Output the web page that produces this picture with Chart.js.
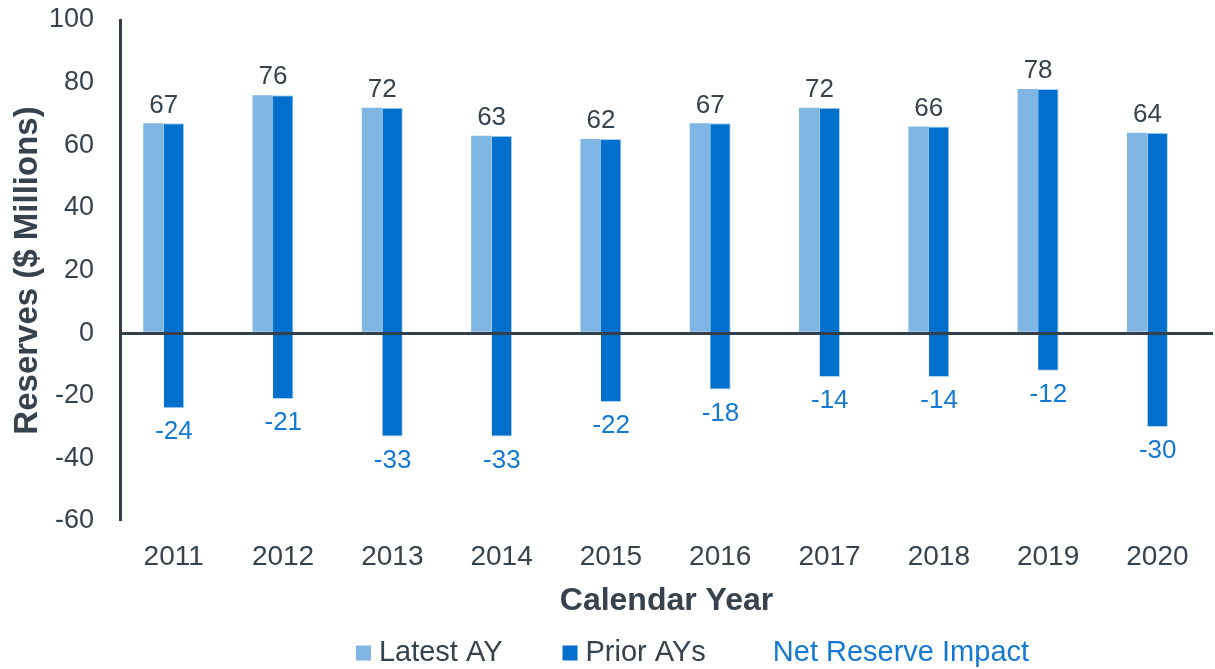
<!DOCTYPE html>
<html>
<head>
<meta charset="utf-8">
<title>Reserves by Calendar Year</title>
<script src="https://cdn.jsdelivr.net/npm/chart.js@4.4.1/dist/chart.umd.min.js"></script>
<style>
  html, body { margin: 0; padding: 0; background: #fff; }
  #wrap { width: 1215px; height: 669px; position: relative; }
</style>
</head>
<body>
<div id="wrap"><canvas id="reserveChart"></canvas></div>
<script>
// Calendar years along the bottom
const years = ["2011", "2012", "2013", "2014", "2015", "2016", "2017", "2018", "2019", "2020"];
// Latest accident year reserves ($ millions)
const latestAY = [67, 76, 72, 63, 62, 67, 72, 66, 78, 64];
// Net reserve impact after prior AY development ($ millions)
const netImpact = [-24, -21, -33, -33, -22, -18, -14, -14, -12, -30];
// Value axis range
const yMin = -60;
const yMax = 100;
const yStep = 20;

const FONT = '"Liberation Sans", Arial, sans-serif';
const textDark = "#38424d";
const lightBlue = "#80b6e4";
const darkBlue = "#0070cc";
const netBlue = "#1479d2";

// Prior AYs bar runs from the latest AY value down to the net impact
const priorAYs = years.map((_, i) => ({ x: i, y: [netImpact[i], latestAY[i]] }));
const latestPoints = years.map((_, i) => ({ x: i, y: latestAY[i] }));

// value labels: latest AY above each pair, net impact under the prior bar
const barLabels = {
    id: "barLabels",
    afterDatasetsDraw(chart) {
        const ctx = chart.ctx;
        const yScale = chart.scales.y;
        const latestMeta = chart.getDatasetMeta(0);
        const priorMeta = chart.getDatasetMeta(1);
        ctx.save();
        ctx.textAlign = "center";
        ctx.textBaseline = "middle";
        ctx.font = "26px " + FONT;
        latestMeta.data.forEach((bar, i) => {
            ctx.fillStyle = textDark;
            ctx.fillText(String(latestAY[i]), bar.x + bar.width / 2, yScale.getPixelForValue(latestAY[i]) - 18);
        });
        priorMeta.data.forEach((bar, i) => {
            ctx.fillStyle = netBlue;
            ctx.fillText(String(netImpact[i]), bar.x, yScale.getPixelForValue(netImpact[i]) + 24);
        });
        ctx.restore();
    }
};

// legend row under the axis title (net impact has no swatch)
const legendItems = [
    { text: "Latest AY", swatch: lightBlue, color: textDark, gapAfter: 60 },
    { text: "Prior AYs", swatch: darkBlue, color: textDark, gapAfter: 67 },
    { text: "Net Reserve Impact", swatch: null, color: netBlue, gapAfter: 0 }
];
const bottomLegend = {
    id: "bottomLegend",
    afterDraw(chart) {
        const ctx = chart.ctx;
        const box = 15;
        const boxGap = 8;
        ctx.save();
        ctx.font = "29px " + FONT;
        ctx.textBaseline = "middle";
        ctx.textAlign = "left";
        let total = 0;
        legendItems.forEach(item => {
            if (item.swatch) total += box + boxGap;
            total += ctx.measureText(item.text).width + item.gapAfter;
        });
        const area = chart.chartArea;
        let x = (area.left + area.right) / 2 + 26 - total / 2;
        const y = chart.height - 16;
        legendItems.forEach(item => {
            if (item.swatch) {
                ctx.fillStyle = item.swatch;
                ctx.fillRect(x, y - box / 2, box, box);
                x += box + boxGap;
            }
            ctx.fillStyle = item.color;
            ctx.fillText(item.text, x, y);
            x += ctx.measureText(item.text).width + item.gapAfter;
        });
        ctx.restore();
    }
};

const ctx = document.getElementById("reserveChart").getContext("2d");
new Chart(ctx, {
    type: "bar",
    data: {
        datasets: [
            {
                label: "Latest AY",
                data: latestPoints,
                backgroundColor: lightBlue,
                borderWidth: 0
            },
            {
                label: "Prior AYs",
                data: priorAYs,
                backgroundColor: darkBlue,
                borderColor: "rgba(140,190,235,0.7)",
                borderWidth: { left: 0, right: 1, top: 1, bottom: 1 },
                borderSkipped: false
            }
        ]
    },
    options: {
        responsive: true,
        maintainAspectRatio: false,
        animation: false,
        categoryPercentage: 0.375,
        barPercentage: 1,
        layout: { padding: { top: 20, right: 2, bottom: 40, left: 0 } },
        plugins: {
            legend: { display: false },
            tooltip: { enabled: false }
        },
        scales: {
            x: {
                type: "linear",
                offset: false,
                min: -0.4,
                max: years.length - 0.4,
                grid: { display: false },
                border: { display: false },
                afterBuildTicks(scale) {
                    scale.ticks = years.map((_, i) => ({ value: i }));
                },
                ticks: {
                    autoSkip: false,
                    maxRotation: 0,
                    labelOffset: 10,
                    padding: 11,
                    color: textDark,
                    font: { family: FONT, size: 28 },
                    callback: v => years[v] || ""
                },
                title: {
                    display: true,
                    text: "Calendar Year",
                    color: textDark,
                    font: { family: FONT, size: 32, weight: "bold" },
                    padding: { top: 0, bottom: 9 }
                },
                afterFit(scale) { scale.height = 108; }
            },
            y: {
                min: yMin,
                max: yMax,
                grid: {
                    z: 1,
                    drawTicks: true,
                    tickLength: 26,
                    tickColor: "rgba(0,0,0,0)",
                    color: c => c.tick.value === 0 ? "#333f4a" : "rgba(0,0,0,0)",
                    lineWidth: c => c.tick.value === 0 ? 3 : 0
                },
                border: { display: true, color: "#333f4a", width: 3, z: 1 },
                ticks: {
                    stepSize: yStep,
                    padding: 0,
                    color: textDark,
                    font: { family: FONT, size: 27 }
                },
                title: {
                    display: true,
                    text: "Reserves ($ Millions)",
                    color: textDark,
                    font: { family: FONT, size: 33, weight: "bold" },
                    padding: { top: 8, bottom: 0 }
                },
                afterFit(scale) { scale.width = 120; }
            }
        }
    },
    plugins: [barLabels, bottomLegend]
});
</script>
</body>
</html>
